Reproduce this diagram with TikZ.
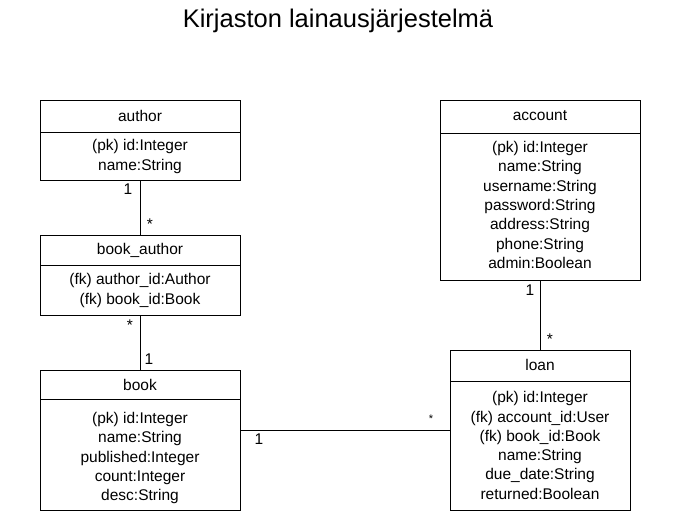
\documentclass[tikz,border=0pt]{standalone}
\usepackage{fontspec}
\setmainfont{Liberation Sans}
\begin{document}
\begin{tikzpicture}[x=1pt,y=-1pt,
  box/.style={draw=black,line width=0.9pt,rectangle,inner sep=0pt},
  txt/.style={inner sep=0pt,align=center,font=\fontsize{15.5}{19.3}\selectfont},
  lbl/.style={inner sep=0pt,font=\fontsize{15.5}{18}\selectfont},
  conn/.style={draw=black,line width=0.9pt}]
\useasboundingbox (0,0) rectangle (681,511);
\node[inner sep=0pt,font=\fontsize{25.5}{30}\selectfont] (title) at (338,21) {Kirjaston lainausjärjestelmä};
% author
\node[box,minimum width=200pt,minimum height=80pt] (author) at (140,140) {};
\draw[conn] (40,132) -- (240,132);
\node[txt] (authorT) at (140,116) {author};
\node[txt] (authorA) at (140,156.5) {(pk) id:Integer\\name:String};
% book_author
\node[box,minimum width=200pt,minimum height=80pt] (ba) at (140,275) {};
\draw[conn] (40,265) -- (240,265);
\node[txt] (baT) at (140,250) {book\_author};
\node[txt] (baA) at (140,290.5) {(fk) author\_id:Author\\(fk) book\_id:Book};
% book
\node[box,minimum width=200pt,minimum height=140pt] (book) at (140,440) {};
\draw[conn] (40,399) -- (240,399);
\node[txt] (bookT) at (140,385) {book};
\node[txt] (bookA) at (140,458) {(pk) id:Integer\\name:String\\published:Integer\\count:Integer\\desc:String};
% account
\node[box,minimum width=200pt,minimum height=180pt] (account) at (540,190) {};
\draw[conn] (440,133) -- (640,133);
\node[txt] (accountT) at (540,116) {account};
\node[txt] (accountA) at (540,205) {(pk) id:Integer\\name:String\\username:String\\password:String\\address:String\\phone:String\\admin:Boolean};
% loan
\node[box,minimum width=180pt,minimum height=160pt] (loan) at (540,430) {};
\draw[conn] (450,381) -- (630,381);
\node[txt] (loanT) at (540,365) {loan};
\node[txt] (loanA) at (540,445.5) {(pk) id:Integer\\(fk) account\_id:User\\(fk) book\_id:Book\\name:String\\due\_date:String\\returned:Boolean};
% connectors
\draw[conn] (author.south) -- (ba.north);
\draw[conn] (ba.south) -- (book.north);
\draw[conn] (account.south) -- (loan.north);
\draw[conn] (loan.west) -- (loan.west -| book.east);
% labels
\node[lbl] (l1) at (128,189) {1};
\node[lbl] (l2) at (150,224) {*};
\node[lbl] (l3) at (130,325) {*};
\node[lbl] (l4) at (149,359) {1};
\node[lbl] (l5) at (530,290) {1};
\node[lbl] (l6) at (550,339) {*};
\node[lbl] (l7) at (259,439) {1};
\node[inner sep=0pt,font=\fontsize{11}{13}\selectfont] (l8) at (431,419) {*};
\end{tikzpicture}
\end{document}
